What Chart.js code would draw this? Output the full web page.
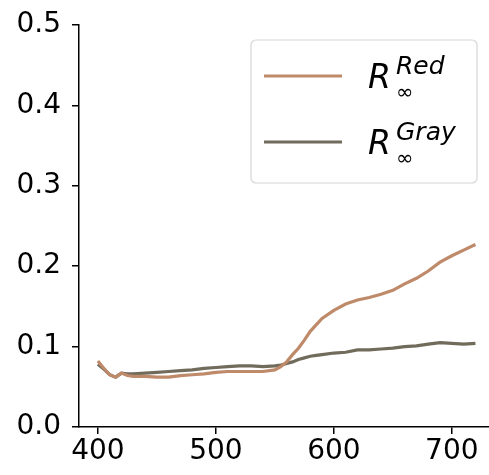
<!DOCTYPE html>
<html>
<head>
<meta charset="utf-8">
<script src="https://cdn.jsdelivr.net/npm/chart.js@4.4.1/dist/chart.umd.min.js"></script>
<style>
  html, body { margin: 0; padding: 0; background: #fff; }
  #wrap { width: 489px; height: 475px; }
</style>
</head>
<body>
<div id="wrap"><canvas id="myChart" width="489" height="475"></canvas></div>
<script>
// wavelength (nm)
var wavelengths = [400, 405, 410, 415, 420, 425, 430, 440, 450, 460, 470, 480, 490, 500, 510, 520, 530, 540, 550, 555,
  560, 565, 570, 575, 580, 585, 590, 600, 610, 620, 630, 640, 650, 660, 670, 680, 690, 700, 710, 720];
var redValues = [0.082, 0.073, 0.065, 0.062, 0.067, 0.064, 0.063, 0.063, 0.062, 0.062, 0.064, 0.065, 0.066, 0.068, 0.069, 0.069, 0.069, 0.069, 0.071, 0.075,
  0.081, 0.090, 0.098, 0.108, 0.119, 0.127, 0.135, 0.145, 0.153, 0.158, 0.161, 0.165, 0.170, 0.178, 0.185, 0.194, 0.205, 0.213, 0.220, 0.227];
var grayValues = [0.078, 0.072, 0.065, 0.062, 0.067, 0.066, 0.066, 0.067, 0.068, 0.069, 0.070, 0.071, 0.073, 0.074, 0.075, 0.076, 0.076, 0.075, 0.076, 0.077,
  0.079, 0.081, 0.084, 0.086, 0.088, 0.089, 0.090, 0.092, 0.093, 0.096, 0.096, 0.097, 0.098, 0.100, 0.101, 0.103, 0.105, 0.104, 0.103, 0.104];
var xTicks = [400, 500, 600, 700];
var yTicks = [0, 0.1, 0.2, 0.3, 0.4, 0.5];
var seriesNames = ['Red', 'Gray'];
var seriesColors = ['#bf8a6a', '#716b5c'];

function toPoints(ys) {
  return wavelengths.map(function (x, i) { return { x: x, y: ys[i] }; });
}

// legend with R^{name}_{inf}, drawn inside the plot like matplotlib
const mathLegend = {
  id: 'mathLegend',
  afterDraw(chart) {
    const c = chart.ctx;
    c.save();
    const bx = 251, by = 40, bw = 226, bh = 143, r = 5;
    c.beginPath();
    c.moveTo(bx + r, by);
    c.arcTo(bx + bw, by, bx + bw, by + bh, r);
    c.arcTo(bx + bw, by + bh, bx, by + bh, r);
    c.arcTo(bx, by + bh, bx, by, r);
    c.arcTo(bx, by, bx + bw, by, r);
    c.closePath();
    c.fillStyle = 'rgba(255,255,255,0.8)';
    c.fill();
    c.strokeStyle = '#d6d6d6';
    c.lineWidth = 1.2;
    c.stroke();

    chart.data.datasets.forEach(function (ds, i) {
      const ly = 76 + i * 66;
      c.strokeStyle = ds.borderColor;
      c.lineWidth = 3.2;
      c.beginPath();
      c.moveTo(264, ly);
      c.lineTo(342, ly);
      c.stroke();

      const base = ly + 12;
      c.fillStyle = '#000';
      c.textBaseline = 'alphabetic';
      c.textAlign = 'left';
      c.font = 'italic 33px "DejaVu Sans"';
      c.fillText('R', 368, base);
      c.font = 'italic 25px "DejaVu Sans"';
      c.fillText(seriesNames[i], 396, base - 14);
      c.font = '21px "DejaVu Sans"';
      c.fillText('\u221e', 396, base + 11);
    });
    c.restore();
  }
};

const ctx = document.getElementById('myChart').getContext('2d');
const myChart = new Chart(ctx, {
  type: 'line',
  data: {
    datasets: [
      {
        label: 'R_inf^Red',
        data: toPoints(redValues),
        borderColor: seriesColors[0],
        borderWidth: 3.2,
        pointRadius: 0,
        fill: false,
        tension: 0
      },
      {
        label: 'R_inf^Gray',
        data: toPoints(grayValues),
        borderColor: seriesColors[1],
        borderWidth: 3.2,
        pointRadius: 0,
        fill: false,
        tension: 0
      }
    ]
  },
  plugins: [mathLegend],
  options: {
    responsive: false,
    animation: false,
    devicePixelRatio: 1,
    layout: { padding: { top: 22, right: 0, left: 0, bottom: 0 } },
    plugins: {
      legend: { display: false },
      tooltip: { enabled: false }
    },
    scales: {
      x: {
        type: 'linear',
        min: 384,
        max: 731.5,
        afterBuildTicks: function (scale) {
          scale.ticks = xTicks.map(function (v) { return { value: v }; });
        },
        afterFit: function (scale) { scale.height = 48; },
        grid: { drawOnChartArea: false, drawTicks: true, tickLength: 7, color: '#000', lineWidth: 1.5 },
        border: { display: true, color: '#000', width: 1.5 },
        ticks: {
          color: '#000',
          font: { family: 'DejaVu Sans', size: 28, lineHeight: 1 },
          padding: 4,
          maxRotation: 0,
          callback: function (v) { return String(v); }
        }
      },
      y: {
        type: 'linear',
        min: 0,
        max: 0.5,
        afterBuildTicks: function (scale) {
          scale.ticks = yTicks.map(function (v) { return { value: v }; });
        },
        afterFit: function (scale) { scale.width = 79; },
        grid: { drawOnChartArea: false, drawTicks: true, tickLength: 7, color: '#000', lineWidth: 1.5 },
        border: { display: true, color: '#000', width: 1.5 },
        ticks: {
          color: '#000',
          font: { family: 'DejaVu Sans', size: 28, lineHeight: 1 },
          padding: 11,
          callback: function (v) { return v.toFixed(1); }
        }
      }
    }
  }
});
</script>
</body>
</html>
